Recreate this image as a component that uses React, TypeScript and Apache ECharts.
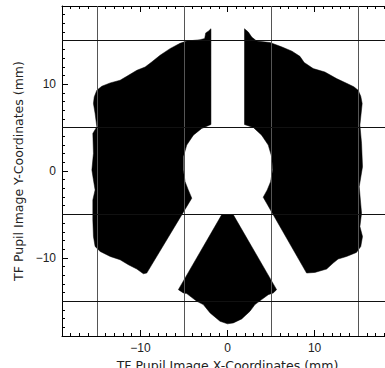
import React, { useEffect, useRef } from "react";
import * as echarts from "echarts";

// Axis ranges (mm)
const axisMin = -19;
const axisMax = 19;
const minorStep = 1;

// Reference grid lines (mm)
const gridLinesX = [-15, -5, 5, 15];
const gridLinesY = [-15, -5, 5, 15];

// Pupil image outline: left segment
const leftPiece: [number, number][] = [
  [-1.9, 16.38], [-2.2, 16.1], [-2.5, 15.9], [-2.62, 15.25], [-3.15, 15.12],
  [-3.9, 15.04], [-4.68, 14.96], [-5.45, 14.7], [-6.6, 14.09], [-7.74, 13.32],
  [-8.7, 12.55], [-9.46, 11.97], [-10.4, 11.6], [-11.56, 10.9], [-12.33, 10.45],
  [-13.47, 10.14], [-14.43, 9.76], [-15.0, 9.3], [-15.3, 8.53], [-15.39, 7.77],
  [-15.2, 6.62], [-15.0, 5.09], [-15.46, 4.33], [-15.39, 2.03], [-15.57, 0.11],
  [-15.39, -1.03], [-15.2, -2.18], [-15.46, -3.33], [-15.46, -5.63], [-15.39, -7.54],
  [-15.2, -8.69], [-14.62, -9.26], [-13.47, -9.84], [-12.33, -10.22], [-11.38, -10.79],
  [-10.41, -11.29], [-9.66, -11.83], [-9.27, -11.75], [-4.1, -3.13], [-4.5, -2.18],
  [-4.87, -1.23], [-5.07, 0.11], [-5.07, 1.64], [-4.68, 2.98], [-3.92, 4.13],
  [-2.96, 4.9], [-1.9, 5.35],
];

// Pupil image outline: right segment
const rightPiece: [number, number][] = [
  [1.95, 16.38], [2.39, 16.0], [2.78, 15.42], [3.35, 14.96], [4.87, 14.8],
  [6.2, 14.3], [7.4, 13.8], [8.31, 13.2], [8.8, 12.5], [9.84, 11.79],
  [11.18, 11.4], [12.52, 10.64], [13.67, 10.1], [14.5, 9.7], [15.0, 9.3],
  [15.3, 8.6], [15.46, 7.77], [15.2, 5.3], [15.39, 3.18], [15.5, 0.49],
  [15.12, -1.8], [15.39, -4.86], [15.2, -6.4], [15.5, -7.54], [15.3, -8.69],
  [14.8, -9.38], [13.67, -9.84], [12.7, -10.14], [12.13, -10.6], [11.38, -11.29],
  [10.03, -11.68], [9.08, -11.75], [4.1, -3.02], [4.56, -2.18], [4.95, -1.23],
  [5.18, 0.11], [5.07, 1.64], [4.68, 2.98], [3.92, 4.13], [2.96, 5.02],
  [1.95, 5.35],
];

// Pupil image outline: bottom wedge
const wedge: [number, number][] = [
  [-0.67, -5.05], [0.67, -5.05], [5.64, -13.66], [5.25, -14.04], [4.68, -14.24],
  [3.92, -14.81], [3.15, -15.38], [2.58, -16.15], [1.63, -17.03], [0.67, -17.49],
  [0, -17.6], [-0.86, -17.3], [-2.0, -16.34], [-2.78, -15.38], [-3.53, -15.0],
  [-4.68, -14.12], [-5.07, -14.04], [-5.64, -13.66],
];

const shapes = [leftPiece, rightPiece, wedge];

const xTitle = "TF Pupil Image X-Coordinates (mm)";
const yTitle = "TF Pupil Image Y-Coordinates (mm)";

const FONT = "'Liberation Sans', Arial, sans-serif";
const TITLE_FONT = "'DejaVu Sans', 'Liberation Sans', sans-serif";
const fmt = (v: number) => String(v).replace("-", "\u2212");

export default function App() {
  const ref = useRef<HTMLDivElement>(null);

  useEffect(() => {
    if (!ref.current) return;
    const chart = echarts.init(ref.current, undefined, { renderer: "svg" });

    const baseAxis = {
      type: "value" as const,
      min: axisMin,
      max: axisMax,
      splitLine: { show: false },
    };
    const majorAxis = (position: string, withLabels: boolean, extra: any = {}) => ({
      ...baseAxis,
      position,
      axisLine: { show: true, onZero: false, lineStyle: { color: "#000", width: 1 } },
      axisTick: { show: true, inside: true, length: 6, lineStyle: { color: "#000", width: 1 } },
      axisLabel: {
        show: withLabels,
        margin: 6,
        showMinLabel: false,
        showMaxLabel: false,
        formatter: fmt,
        fontFamily: FONT,
        fontSize: 12,
        color: "#222",
      },
      ...extra,
    });
    const minorAxis = (position: string) => ({
      ...baseAxis,
      position,
      interval: minorStep,
      axisLine: { show: false, onZero: false },
      axisTick: { show: true, inside: true, length: 3, lineStyle: { color: "#000", width: 1 } },
      axisLabel: { show: false },
    });

    const titleStyle = { fontFamily: TITLE_FONT, fontSize: 12.5, color: "#222" };

    const option: any = {
      animation: false,
      backgroundColor: "#fff",
      grid: {
        left: 62,
        top: 6,
        width: 331,
        height: 330,
        containLabel: false,
        outerBoundsMode: "none",
      },
      xAxis: [
        majorAxis("bottom", true, {
          name: xTitle,
          nameLocation: "middle",
          nameGap: 21,
          nameTextStyle: titleStyle,
        }),
        minorAxis("bottom"),
        majorAxis("top", false),
        minorAxis("top"),
      ],
      yAxis: [
        majorAxis("left", true, {
          name: yTitle,
          nameLocation: "middle",
          nameGap: 37,
          nameTextStyle: titleStyle,
        }),
        minorAxis("left"),
        majorAxis("right", false),
        minorAxis("right"),
      ],
      series: [
        {
          type: "line",
          xAxisIndex: 0,
          yAxisIndex: 0,
          data: [],
          z: 1,
          markLine: {
            silent: true,
            symbol: ["none", "none"],
            label: { show: false },
            lineStyle: { type: "solid", color: "#333", width: 1 },
            data: [
              ...gridLinesX.map((v) => ({
                xAxis: v,
                lineStyle: { type: "solid", color: "#555", width: 1 },
              })),
              ...gridLinesY.map((v) => ({
                yAxis: v,
                lineStyle: { type: "solid", color: "#111", width: 1 },
              })),
            ],
          },
        },
        {
          type: "custom",
          xAxisIndex: 0,
          yAxisIndex: 0,
          z: 3,
          data: shapes.map((s) => s[0]),
          renderItem: (params: any, api: any) => {
            const pts = shapes[params.dataIndex].map((p) => api.coord(p));
            return {
              type: "polygon",
              shape: { points: pts },
              style: { fill: "#000", stroke: "#000", lineWidth: 0.5 },
            };
          },
        },
      ],
    };
    chart.setOption(option);
    return () => chart.dispose();
  }, []);

  return (
    <div
      ref={ref}
      style={{ position: "absolute", left: 0, top: 0, width: 385, height: 368 }}
    />
  );
}
